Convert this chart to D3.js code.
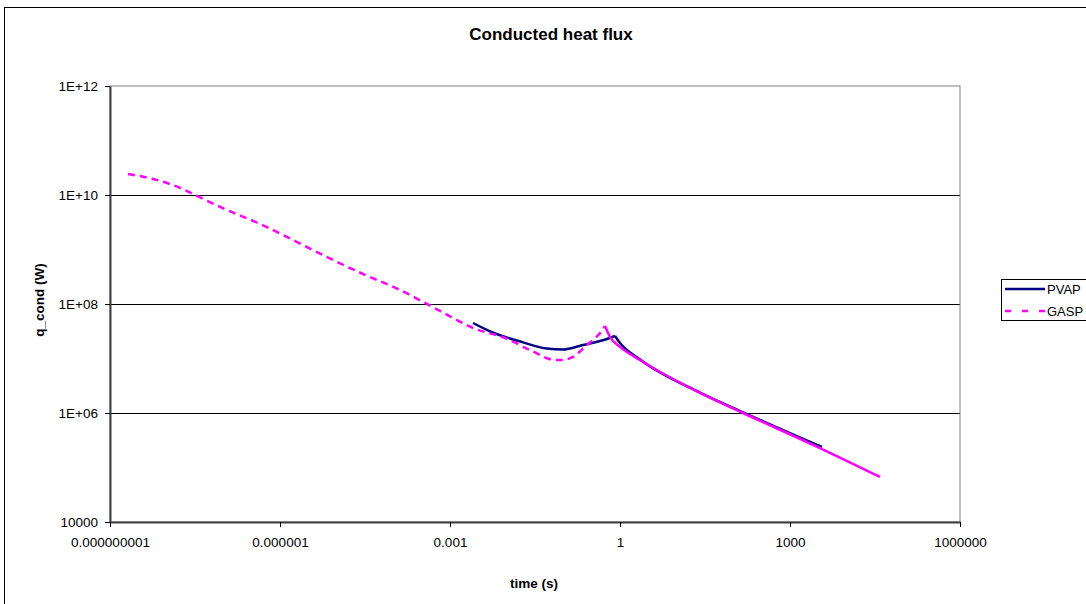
<!DOCTYPE html>
<html>
<head>
<meta charset="utf-8">
<script src="https://cdn.jsdelivr.net/npm/d3@7"></script>
<style>
  body { margin: 0; background: #fff; }
  text { font-family: "Liberation Sans", Arial, sans-serif; }
</style>
</head>
<body>
<div id="chart"></div>
<script>
// data
var gaspTime = [2.08e-9, 5.74e-9, 1.72e-8, 3.16e-8, 1.16e-7, 4.44e-7, 2.0e-6, 8.6e-6, 3.43e-5, 1.07e-4,
    6.67e-4, 2.55e-3, 0.0101, 0.0258, 0.0713, 0.0946, 0.148, 0.262, 0.444, 0.543,
    0.667, 1.0, 2.25, 25.8, 148, 3670, 38700];
var gaspFlux = [2.43e10, 1.97e10, 1.35e10, 1.0e10, 5.31e9, 2.95e9, 1.37e9, 6.41e8, 3.30e8, 2.0e8,
    7.45e7, 3.63e7, 2.30e7, 1.43e7, 9.4e6, 9.4e6, 1.07e7, 1.77e7, 2.94e7, 3.94e7,
    2.48e7, 1.63e7, 9.38e6, 2.33e6, 1.0e6, 2.18e5, 6.7e4];
var pvapTime = [2.55e-3, 5.08e-3, 0.0194, 0.0515, 0.0986, 0.222, 0.590, 0.817, 1.0, 2.25, 25.8, 148, 3670];
var pvapFlux = [4.48e7, 3.15e7, 1.98e7, 1.52e7, 1.46e7, 1.77e7, 2.28e7, 2.59e7, 1.92e7, 9.6e6, 2.36e6, 1.03e6, 2.38e5];

var xTicks = [1e-9, 1e-6, 1e-3, 1, 1e3, 1e6];
var xTickLabels = ["0.000000001", "0.000001", "0.001", "1", "1000", "1000000"];
var yTicks = [1e4, 1e6, 1e8, 1e10, 1e12];
var yTickLabels = ["10000", "1E+06", "1E+08", "1E+10", "1E+12"];
var seriesNames = ["PVAP", "GASP"];

var W = 1086, H = 604;
var margin = {top: 86, right: 126, bottom: 82, left: 110},
    width = W - margin.left - margin.right,
    height = H - margin.top - margin.bottom;

var root = d3.select("#chart").append("svg")
    .attr("width", W)
    .attr("height", H);

// outer chart border
root.append("rect")
    .attr("x", 4.5).attr("y", 7.5)
    .attr("width", W + 20).attr("height", H + 20)
    .attr("fill", "#fff")
    .attr("stroke", "#000")
    .attr("stroke-width", 1);

root.append("text")
    .attr("x", 551).attr("y", 40)
    .attr("text-anchor", "middle")
    .style("font-size", "17px")
    .style("font-weight", "bold")
    .text("Conducted heat flux");

var svg = root.append("g")
    .attr("transform", "translate(" + margin.left + "," + margin.top + ")");

var x = d3.scaleLog().domain([1e-9, 1e6]).range([0, width]);
var y = d3.scaleLog().domain([1e4, 1e12]).range([height, 0]);

// gridlines
svg.selectAll(".grid")
    .data(yTicks.slice(1, 4))
    .enter()
    .append("line")
    .attr("x1", 0).attr("x2", width)
    .attr("y1", function(d) { return Math.round(y(d)) + 0.5; })
    .attr("y2", function(d) { return Math.round(y(d)) + 0.5; })
    .attr("stroke", "#000")
    .attr("stroke-width", 1);

// plot box
svg.append("rect")
    .attr("x", 0).attr("y", 0)
    .attr("width", width).attr("height", height)
    .attr("fill", "none")
    .attr("stroke", "#808080")
    .attr("stroke-width", 1);

// axes
var xAxis = svg.append("g")
    .attr("transform", "translate(0," + height + ")")
    .call(d3.axisBottom(x).tickValues(xTicks)
        .tickFormat(function(d, i) { return xTickLabels[i]; })
        .tickSizeInner(5).tickSizeOuter(0).tickPadding(10));
var yAxis = svg.append("g")
    .call(d3.axisLeft(y).tickValues(yTicks)
        .tickFormat(function(d, i) { return yTickLabels[i]; })
        .tickSizeInner(5).tickSizeOuter(0).tickPadding(7));
[xAxis, yAxis].forEach(function(a) {
    a.select(".domain").attr("stroke", "#404040").attr("stroke-width", 2);
    a.selectAll(".tick line").attr("stroke", "#000");
    a.selectAll("text")
        .style("font-family", "'Liberation Sans', Arial, sans-serif")
        .style("font-size", "13.5px")
        .attr("fill", "#000");
});

// axis titles
root.append("text")
    .attr("transform", "translate(44,300) rotate(-90)")
    .attr("text-anchor", "middle")
    .style("font-size", "13.5px")
    .style("font-weight", "bold")
    .text("q_cond (W)");
root.append("text")
    .attr("x", 534).attr("y", 588)
    .attr("text-anchor", "middle")
    .style("font-size", "13.5px")
    .style("font-weight", "bold")
    .text("time (s)");

var line = d3.line()
    .curve(d3.curveMonotoneX)
    .x(function(d) { return x(d[0]); })
    .y(function(d) { return y(d[1]); });

var pvap = d3.zip(pvapTime, pvapFlux);
var gasp = d3.zip(gaspTime, gaspFlux);

// index of the late spike, so the spike keeps a sharp tip
function spike(data) {
    var best = -1;
    data.forEach(function(d, i) {
        if (d[0] > 0.1 && (best < 0 || d[1] > data[best][1])) best = i;
    });
    return best;
}
var gp = spike(gasp), pp = spike(pvap);

function draw(data, color, dash) {
    svg.append("path")
        .datum(data)
        .attr("d", line)
        .attr("fill", "none")
        .attr("stroke", color)
        .attr("stroke-width", 2.5)
        .attr("stroke-dasharray", dash);
}

draw(pvap.slice(0, pp + 1), "#000080", null);
draw(pvap.slice(pp), "#000080", null);
// GASP: dashed up to the spike, dense points after it look solid
draw(gasp.slice(0, gp + 1), "#ff00ff", "7,5");
draw(gasp.slice(gp), "#ff00ff", null);

// legend
var legend = root.append("g").attr("transform", "translate(1001,279)");
legend.append("rect")
    .attr("x", 0.5).attr("y", 0.5)
    .attr("width", 120).attr("height", 41)
    .attr("fill", "#fff")
    .attr("stroke", "#000");
var colors = ["#000080", "#ff00ff"];
var dashes = [null, "6,11"];
seriesNames.forEach(function(name, i) {
    var ly = 10 + i * 22;
    legend.append("line")
        .attr("x1", 4).attr("x2", 44)
        .attr("y1", ly).attr("y2", ly)
        .attr("stroke", colors[i])
        .attr("stroke-width", 2.5)
        .attr("stroke-dasharray", dashes[i]);
    legend.append("text")
        .attr("x", 46).attr("y", ly + 5)
        .style("font-size", "13px")
        .text(name);
});
</script>
</body>
</html>
